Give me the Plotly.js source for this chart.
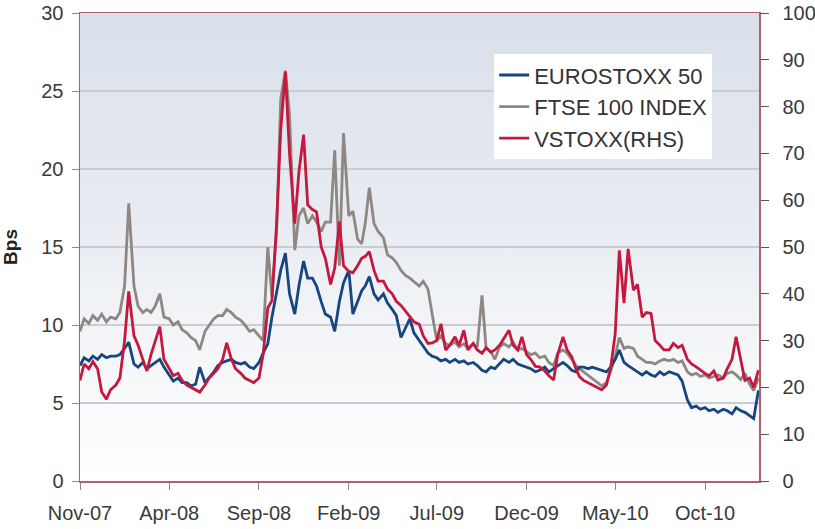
<!DOCTYPE html>
<html>
<head>
<meta charset="utf-8">
<script src="https://cdn.plot.ly/plotly-3.0.1.min.js"></script>
<style>html,body{margin:0;padding:0;background:#fff}#chart{width:815px;height:529px}</style>
</head>
<body>
<div id="chart"></div>
<script>
const dates = [
'2007-11-01','2007-11-08','2007-11-16','2007-11-23',
'2007-12-01','2007-12-08','2007-12-16','2007-12-23',
'2008-01-01','2008-01-08','2008-01-16','2008-01-23',
'2008-02-01','2008-02-08','2008-02-16','2008-02-23',
'2008-03-01','2008-03-08','2008-03-16','2008-03-23',
'2008-04-01','2008-04-08','2008-04-16','2008-04-23',
'2008-05-01','2008-05-08','2008-05-16','2008-05-23',
'2008-06-01','2008-06-08','2008-06-16','2008-06-23',
'2008-07-01','2008-07-08','2008-07-16','2008-07-23',
'2008-08-01','2008-08-08','2008-08-16','2008-08-23',
'2008-09-01','2008-09-08','2008-09-16','2008-09-23',
'2008-10-01','2008-10-08','2008-10-16','2008-10-23',
'2008-11-01','2008-11-08','2008-11-16','2008-11-23',
'2008-12-01','2008-12-08','2008-12-16','2008-12-23',
'2009-01-01','2009-01-08','2009-01-16','2009-01-23',
'2009-02-01','2009-02-08','2009-02-16','2009-02-23',
'2009-03-01','2009-03-08','2009-03-16','2009-03-23',
'2009-04-01','2009-04-08','2009-04-16','2009-04-23',
'2009-05-01','2009-05-08','2009-05-16','2009-05-23',
'2009-06-01','2009-06-08','2009-06-16','2009-06-23',
'2009-07-01','2009-07-08','2009-07-16','2009-07-23',
'2009-08-01','2009-08-08','2009-08-16','2009-08-23',
'2009-09-01','2009-09-08','2009-09-16','2009-09-23',
'2009-10-01','2009-10-08','2009-10-16','2009-10-23',
'2009-11-01','2009-11-08','2009-11-16','2009-11-23',
'2009-12-01','2009-12-08','2009-12-16','2009-12-23',
'2010-01-01','2010-01-08','2010-01-16','2010-01-23',
'2010-02-01','2010-02-08','2010-02-16','2010-02-23',
'2010-03-01','2010-03-08','2010-03-16','2010-03-23',
'2010-04-01','2010-04-08','2010-04-16','2010-04-23',
'2010-05-01','2010-05-08','2010-05-16','2010-05-23',
'2010-06-01','2010-06-08','2010-06-16','2010-06-23',
'2010-07-01','2010-07-08','2010-07-16','2010-07-23',
'2010-08-01','2010-08-08','2010-08-16','2010-08-23',
'2010-09-01','2010-09-08','2010-09-16','2010-09-23',
'2010-10-01','2010-10-08','2010-10-16','2010-10-23',
'2010-11-01','2010-11-08','2010-11-16','2010-11-23',
'2010-12-01','2010-12-08','2010-12-16','2010-12-23',
'2010-12-31'
];

const eurostoxx = [
7.4, 7.9, 7.7, 8.0,
7.8, 8.1, 7.9, 8.0,
8.0, 8.1, 8.5, 8.9,
7.5, 7.3, 7.6, 7.2,
7.4, 7.6, 7.8, 7.3,
6.8, 6.4, 6.6, 6.3,
6.3, 6.1, 6.2, 7.3,
6.3, 6.6, 7.0, 7.4,
7.6, 7.7, 7.8, 7.6,
7.5, 7.6, 7.3, 7.2,
7.6, 8.2, 8.8, 10.5,
12.0, 13.5, 14.6, 12.0,
10.7, 12.5, 14.1, 13.0,
13.0, 12.5, 11.5, 10.7,
10.5, 9.6, 11.5, 12.7,
13.5, 10.7, 11.5, 12.2,
12.5, 13.1, 12.0, 11.6,
12.0, 11.4, 11.0, 10.6,
9.2, 9.8, 10.4, 9.5,
9.0, 8.6, 8.2, 8.0,
7.9, 7.7, 7.8, 7.6,
7.8, 7.6, 7.7, 7.5,
7.6, 7.4, 7.1, 7.0,
7.3, 7.2, 7.5, 7.8,
7.6, 7.8, 7.5, 7.4,
7.3, 7.2, 7.0, 7.1,
7.3, 7.0, 7.2, 7.4,
7.6, 7.4, 7.1, 7.0,
7.3, 7.3, 7.2, 7.3,
7.2, 7.1, 7.0, 7.3,
7.8, 8.4, 7.6, 7.4,
7.2, 7.0, 6.8, 7.0,
6.8, 6.7, 7.0, 6.8,
7.0, 6.9, 6.8, 6.4,
5.2, 4.7, 4.8, 4.6,
4.7, 4.5, 4.6, 4.4,
4.6, 4.5, 4.3, 4.7,
4.5, 4.4, 4.2, 4.0,
5.8
];

const ftse = [
9.6, 10.4, 10.1, 10.6,
10.3, 10.7, 10.2, 10.5,
10.4, 10.8, 12.5, 17.8,
12.5, 11.2, 10.8, 11.0,
10.8, 11.2, 12.0, 10.5,
10.4, 10.0, 10.2, 9.7,
9.5, 9.2, 9.0, 8.4,
9.6, 10.0, 10.4, 10.6,
10.6, 11.0, 10.8, 10.5,
10.3, 10.0, 9.6, 9.7,
9.3, 9.0, 15.0, 11.8,
16.0, 24.5, 26.3, 23.5,
14.8, 17.0, 17.5, 16.5,
17.0, 16.6, 16.0, 16.6,
16.6, 21.2, 13.8, 22.3,
17.0, 17.3, 15.5, 15.2,
16.5, 18.8, 16.5, 16.0,
15.6, 14.5, 14.3, 14.0,
13.5, 13.2, 13.0, 12.8,
12.5, 12.8, 12.3, 10.7,
9.0, 9.3, 8.8, 8.7,
8.9, 8.6, 8.8, 8.5,
8.8, 8.6, 11.9, 8.5,
8.3, 7.8, 8.6, 8.8,
8.6, 8.9, 8.4, 8.5,
8.3, 8.1, 8.2, 7.9,
8.0, 7.6, 7.4, 8.2,
8.4, 8.2, 7.8, 7.4,
7.2, 7.0, 6.8, 6.6,
6.3, 6.1, 6.3, 7.0,
8.0, 9.2, 8.5, 8.6,
8.5, 8.0, 7.8, 7.6,
7.6, 7.5, 7.7, 7.8,
7.7, 7.8, 7.6, 7.7,
7.0, 6.8, 6.9, 6.7,
6.8, 6.6, 6.7, 6.8,
6.6, 6.9, 7.0, 6.8,
6.5, 6.9, 6.2, 5.8,
6.6
];

const vstoxx = [
21.5, 25.0, 24.0, 25.5,
24.0, 19.0, 17.5, 19.5,
20.5, 22.0, 30.0, 40.5,
31.0, 29.0, 26.0, 23.5,
27.0, 30.0, 33.0, 26.0,
24.0, 22.5, 23.0, 21.5,
20.5, 20.0, 19.5, 19.0,
20.5, 22.0, 23.0, 24.0,
26.0, 29.5, 26.0, 24.0,
23.0, 22.0, 21.5, 21.0,
22.0, 27.0, 37.0, 38.5,
55.0, 75.0, 87.5, 70.0,
55.0, 66.0, 74.0, 59.0,
58.0, 57.5, 50.0, 47.6,
42.0, 45.5, 55.4, 46.0,
44.8, 44.5, 46.0, 47.6,
48.0, 49.0, 45.0, 42.7,
42.7, 41.0, 40.0, 38.4,
37.5, 36.4, 35.0, 34.0,
33.5, 31.0, 29.4, 29.5,
30.0, 33.6, 28.0, 29.0,
30.8, 29.0, 32.2, 28.0,
29.4, 28.0, 27.3, 28.5,
27.5, 28.0, 29.0, 30.5,
32.2, 29.0, 28.0, 30.8,
27.0, 26.0, 24.5, 24.4,
23.5, 22.5, 21.6, 27.0,
30.8, 28.0, 26.5, 24.0,
22.3, 21.5, 21.0, 20.5,
20.0, 19.5, 20.5, 24.0,
31.5, 49.3, 38.0, 49.6,
40.8, 42.0, 35.0, 36.0,
35.8, 30.0, 29.0, 28.0,
28.0, 29.4, 28.5, 29.0,
26.0, 25.0, 24.4, 23.7,
23.0, 22.5, 23.5, 21.6,
22.0, 24.0, 26.0, 30.8,
26.0, 21.5, 22.0, 20.0,
23.7
];

const tickDates = ['2007-11-01','2008-04-01','2008-09-01','2009-02-01','2009-07-01','2009-12-01','2010-05-01','2010-10-01'];
const tickLabels = ['Nov-07','Apr-08','Sep-08','Feb-09','Jul-09','Dec-09','May-10','Oct-10'];
const leftTicks = [0, 5, 10, 15, 20, 25, 30];
const rightTicks = [0, 10, 20, 30, 40, 50, 60, 70, 80, 90, 100];

const gradSvg = "<svg xmlns='http://www.w3.org/2000/svg' width='100' height='100' viewBox='0 0 100 100' preserveAspectRatio='none'>" +
  "<defs><linearGradient id='g' x1='0' y1='0' x2='0' y2='1'>" +
  "<stop offset='0' stop-color='#d9e0ea'/><stop offset='0.45' stop-color='#e8ecf2'/>" +
  "<stop offset='0.75' stop-color='#f6f7f9'/><stop offset='1' stop-color='#ffffff'/>" +
  "</linearGradient></defs><rect x='0' y='0' width='100' height='100' fill='url(#g)'/></svg>";
const gradUri = 'data:image/svg+xml;charset=utf-8,' + encodeURIComponent(gradSvg);

const traces = [
  {x: dates, y: ftse, name: 'FTSE 100 INDEX', type: 'scatter', mode: 'lines',
   line: {color: '#8f8782', width: 2.8}, legendrank: 2, yaxis: 'y'},
  {x: dates, y: vstoxx, name: 'VSTOXX(RHS)', type: 'scatter', mode: 'lines',
   line: {color: '#c4183f', width: 2.8}, legendrank: 3, yaxis: 'y2'},
  {x: dates, y: eurostoxx, name: 'EUROSTOXX 50', type: 'scatter', mode: 'lines',
   line: {color: '#17457f', width: 2.8}, legendrank: 1, yaxis: 'y'}
];

const axisLine = '#b0606c';
const layout = {
  width: 815, height: 529,
  margin: {l: 80, r: 56, t: 13, b: 48},
  paper_bgcolor: '#ffffff',
  plot_bgcolor: 'rgba(0,0,0,0)',
  font: {family: 'Liberation Sans, Arial, sans-serif', size: 20, color: '#3a3a3a'},
  showlegend: true,
  legend: {x: 0.61, y: 0.912, xanchor: 'left', yanchor: 'top', bgcolor: '#ffffff',
           borderwidth: 0, font: {size: 22, color: '#333333'}},
  xaxis: {type: 'date', range: ['2007-11-01', '2011-01-01'], tickvals: tickDates, ticktext: tickLabels,
          ticks: 'outside', ticklen: 7, tickcolor: '#8a8a8a', tickwidth: 1, showgrid: false,
          showline: true, linecolor: axisLine, linewidth: 1.5, mirror: true, zeroline: false,
          ticklabelstandoff: 6, tickfont: {size: 20}},
  yaxis: {range: [0, 30], tickvals: leftTicks, ticks: 'outside', ticklen: 7, tickcolor: '#8a8a8a',
          showline: true, linecolor: axisLine, linewidth: 1.5, showgrid: true, gridcolor: '#c9cdd3',
          gridwidth: 1.5, zeroline: false, ticklabelstandoff: 4,
          title: {text: '<b>Bps</b>', font: {size: 19, color: '#222222'}, standoff: 18}},
  yaxis2: {overlaying: 'y', side: 'right', range: [0, 100], tickvals: rightTicks, ticks: 'outside',
           ticklen: 8, tickcolor: '#555555', showline: true, linecolor: axisLine, linewidth: 1.5,
           showgrid: false, zeroline: false, ticklabelstandoff: 10},
  images: [{source: gradUri, xref: 'paper', yref: 'paper', x: 0, y: 1, sizex: 1, sizey: 1,
            sizing: 'stretch', xanchor: 'left', yanchor: 'top', layer: 'below'}]
};

Plotly.newPlot('chart', traces, layout, {displayModeBar: false, staticPlot: true});
</script>
</body>
</html>
